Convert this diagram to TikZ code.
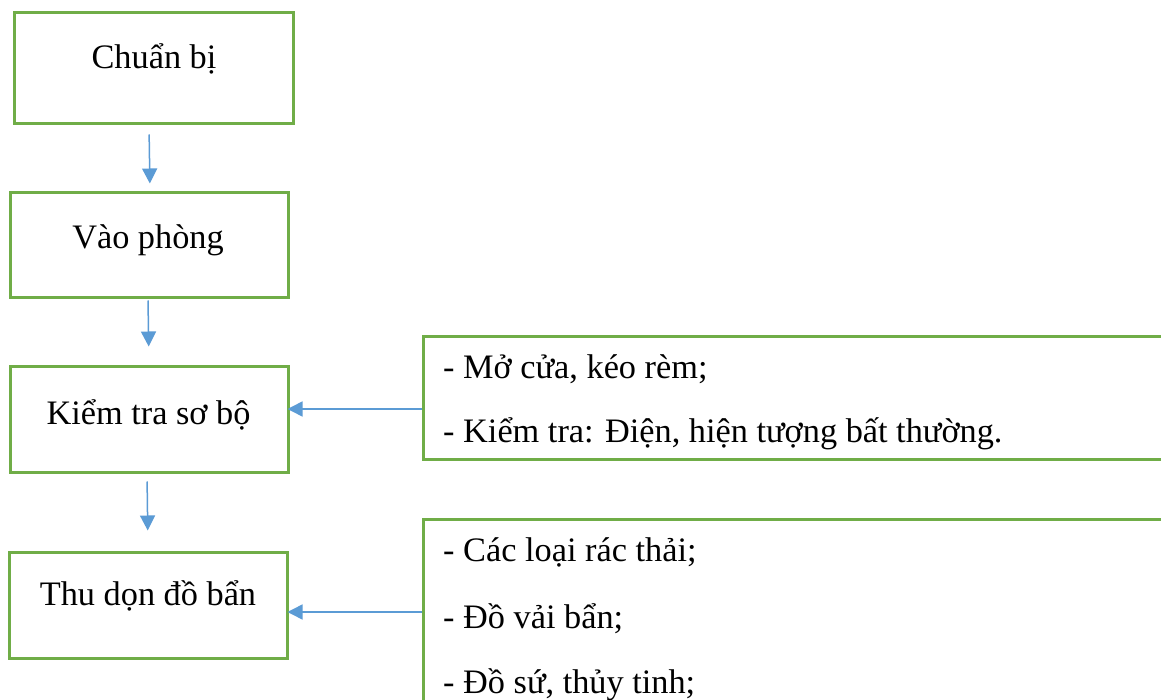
\documentclass[tikz,border=0pt]{standalone}
\usepackage{fontspec}
\setmainfont{Liberation Serif}
\usetikzlibrary{arrows.meta}
\definecolor{boxgreen}{HTML}{70AD47}
\definecolor{arrblue}{HTML}{5B9BD5}
\tikzset{
  stepbox/.style={draw=boxgreen, line width=3pt, rectangle, inner sep=0pt},
  txt/.style={inner sep=0pt, anchor=base, font=\fontsize{34.3}{41}\selectfont},
  ltxt/.style={inner sep=0pt, anchor=base west, font=\fontsize{34.3}{41}\selectfont},
  arr/.style={draw=arrblue, line width=1.5pt, -{Triangle[length=15pt,width=15pt]}}
}
\begin{document}
\begin{tikzpicture}[x=1pt,y=-1pt]
\clip (0,0) rectangle (1161,700);
\fill[white] (0,0) rectangle (1161,700);
% left column boxes
\node[stepbox, minimum width=279pt, minimum height=111pt] (b1) at (153.5,68.5) {};
\node[stepbox, minimum width=278pt, minimum height=105pt] (b2) at (149,245.5) {};
\node[stepbox, minimum width=278pt, minimum height=106pt] (b3) at (149,419) {};
\node[stepbox, minimum width=278pt, minimum height=106pt] (b4) at (148,605) {};
\node[txt] (t1) at (154,69) {Chuẩn bị};
\node[txt] (t2) at (148,249) {Vào phòng};
\node[txt] (t3) at (148.5,424) {Kiểm tra sơ bộ};
\node[txt] (t4) at (148,605) {Thu dọn đồ bẩn};
% right boxes (run past the right/bottom edge)
\node[stepbox, minimum width=757pt, minimum height=123pt] (r1) at (801.5,397.5) {};
\node[stepbox, minimum width=757pt, minimum height=201pt] (r2) at (801.5,619.5) {};
\node[ltxt] (r1a) at (443,378) {- Mở cửa, kéo rèm;};
\node[ltxt] (r1b) at (443,442) {- Kiểm tra: Điện, hiện tượng bất thường.};
\node[ltxt] (r2a) at (443,561) {- Các loại rác thải;};
\node[ltxt] (r2b) at (443,628) {- Đồ vải bẩn;};
\node[ltxt] (r2c) at (443,693) {- Đồ sứ, thủy tinh;};
% vertical arrows
\draw[arr, shorten <=9pt, shorten >=8pt] ([xshift=-4.5pt]b1.south) -- ([xshift=1pt]b2.north);
\draw[arr, shorten <=1pt, shorten >=18pt] ([xshift=-1pt]b2.south) -- (b3.north);
\draw[arr, shorten <=8pt, shorten >=20pt] ([xshift=-2pt]b3.south) -- (b4.north);
% horizontal arrows
\draw[arr, shorten >=-2pt] ([yshift=-11.5pt]r1.west) -- ([yshift=-11.5pt]r1.west -| b3.east);
\draw[arr, shorten >=-1pt] ([yshift=7.5pt]r2.west) -- ([yshift=7.5pt]r2.west -| b4.east);
\end{tikzpicture}
\end{document}
